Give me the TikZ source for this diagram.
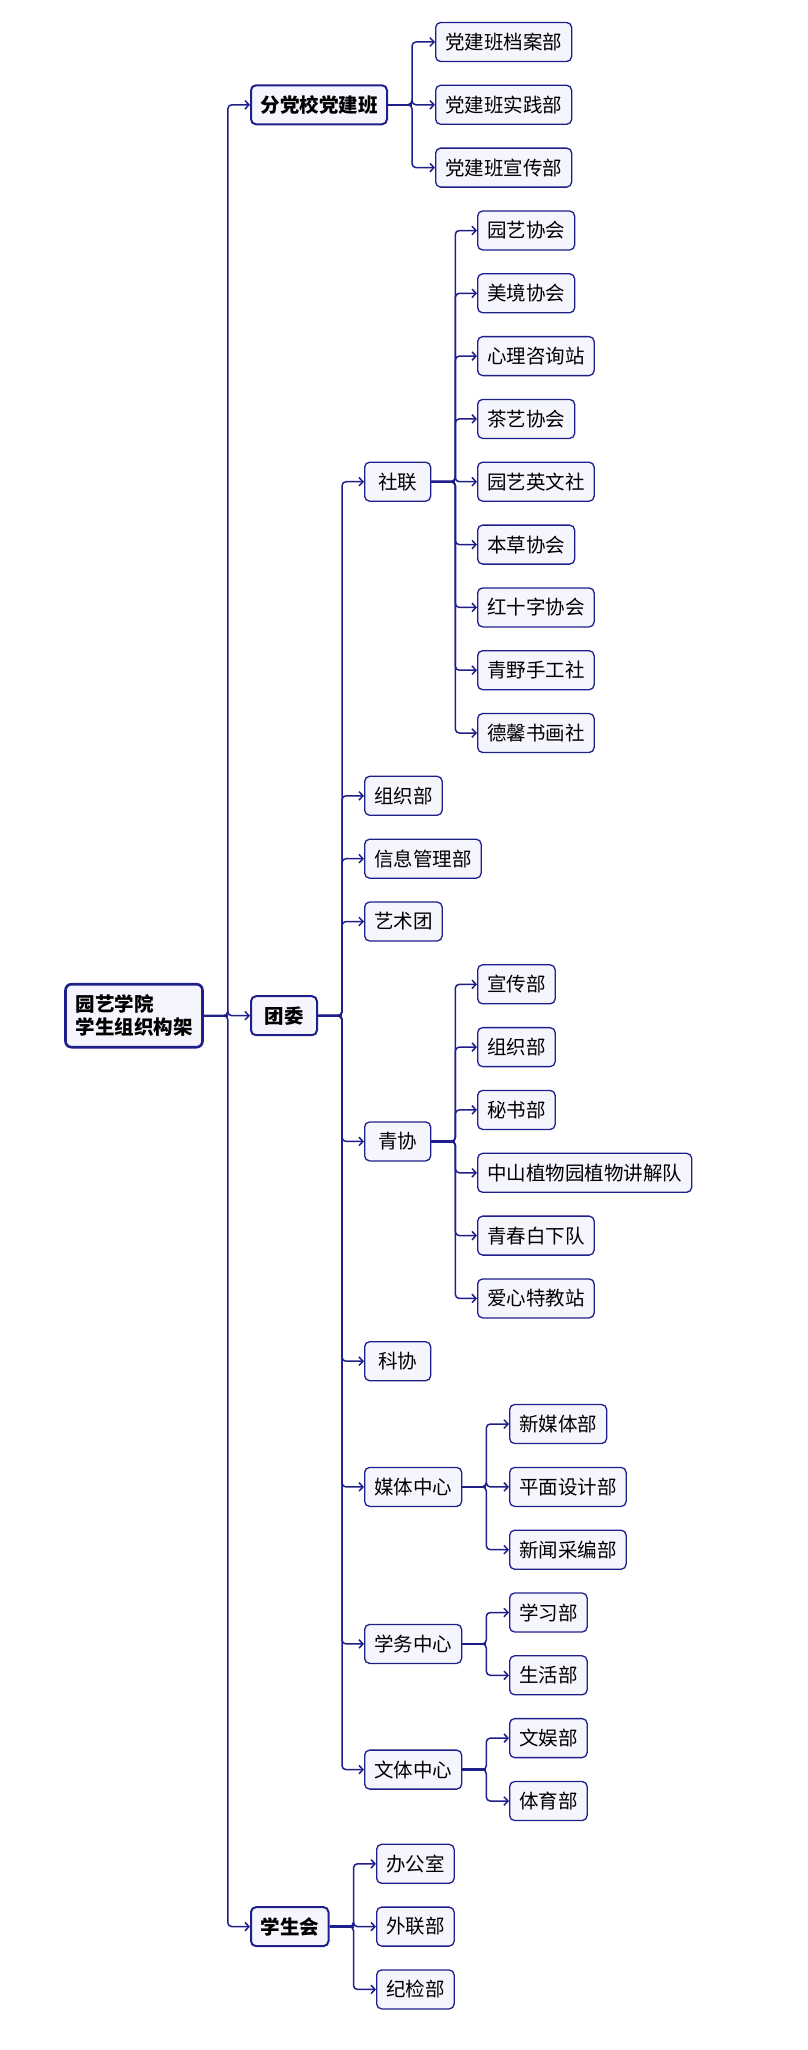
\documentclass[tikz,border=0pt]{standalone}
\usepackage{fontspec}
\setmainfont{Noto Sans CJK SC}
\usetikzlibrary{arrows.meta}
\definecolor{navy}{HTML}{1F1F8C}
\definecolor{boxfill}{HTML}{F5F5FD}

\begin{document}
\begin{tikzpicture}[x=1pt,y=-1pt,
    box/.style={draw=navy,fill=boxfill,rounded corners=5pt,line width=1.3pt,anchor=west,
      inner xsep=9.5pt,inner ysep=0pt,minimum height=39pt,minimum width=66pt,
      font=\fontsize{19.5}{22.5}\selectfont},
    lvlone/.style={box,line width=2pt,font=\fontsize{19.5}{22.5}\selectfont\bfseries},
    rootbox/.style={lvlone,line width=2.6pt,rounded corners=6pt,anchor=center,align=left,
      minimum height=63pt,inner xsep=10pt},
    link/.style={draw=navy,line width=1.5pt,rounded corners=4pt,-{Straight Barb[length=4pt,width=8.5pt]}},
    stub/.style={draw=navy,line width=2.3pt}]
   \useasboundingbox (0,0) rectangle (807,2050);
   \node at (134,1015.7) [rootbox] (root) {园艺学院\\学生组织构架};
   \node at (250,104.8) [lvlone] (dx) {分党校党建班};
   \node at (250,1015.7) [lvlone] (tw) {团委};
   \node at (250,1926.6) [lvlone] (xsh) {学生会};
   % 分党校党建班
   \node at (435,42.0) [box] (dx1) {党建班档案部};
   \node at (435,104.8) [box] (dx2) {党建班实践部};
   \node at (435,167.6) [box] (dx3) {党建班宣传部};
   % 团委
   \node at (364,481.7) [box] (sl) {社联};
   \node at (364,795.8) [box] (zzb) {组织部};
   \node at (364,858.7) [box] (xxgl) {信息管理部};
   \node at (364,921.5) [box] (yst) {艺术团};
   \node at (364,1141.4) [box] (qx) {青协};
   \node at (364,1361.2) [box] (kx) {科协};
   \node at (364,1486.9) [box] (mt) {媒体中心};
   \node at (364,1643.9) [box] (xw) {学务中心};
   \node at (364,1769.6) [box] (wt) {文体中心};
   % 社联
   \node at (477,230.5) [box] (sl1) {园艺协会};
   \node at (477,293.3) [box] (sl2) {美境协会};
   \node at (477,356.1) [box] (sl3) {心理咨询站};
   \node at (477,418.9) [box] (sl4) {茶艺协会};
   \node at (477,481.7) [box] (sl5) {园艺英文社};
   \node at (477,544.6) [box] (sl6) {本草协会};
   \node at (477,607.4) [box] (sl7) {红十字协会};
   \node at (477,670.2) [box] (sl8) {青野手工社};
   \node at (477,733.0) [box] (sl9) {德馨书画社};
   % 青协
   \node at (477,984.3) [box] (qx1) {宣传部};
   \node at (477,1047.1) [box] (qx2) {组织部};
   \node at (477,1109.9) [box] (qx3) {秘书部};
   \node at (477,1172.8) [box] (qx4) {中山植物园植物讲解队};
   \node at (477,1235.6) [box] (qx5) {青春白下队};
   \node at (477,1298.4) [box] (qx6) {爱心特教站};
   % 中心
   \node at (509,1424.0) [box] (mt1) {新媒体部};
   \node at (509,1486.9) [box] (mt2) {平面设计部};
   \node at (509,1549.7) [box] (mt3) {新闻采编部};
   \node at (509,1612.5) [box] (xw1) {学习部};
   \node at (509,1675.3) [box] (xw2) {生活部};
   \node at (509,1738.1) [box] (wt1) {文娱部};
   \node at (509,1801.0) [box] (wt2) {体育部};
   % 学生会
   \node at (376,1863.8) [box] (xs1) {办公室};
   \node at (376,1926.6) [box] (xs2) {外联部};
   \node at (376,1989.4) [box] (xs3) {纪检部};
   \foreach \p in {root,dx,tw,sl,qx,mt,xw,wt,xsh}
      \draw[stub] (\p.east) -- ++(24,0);
   \foreach \p/\c in {root/dx,root/tw,root/xsh,dx/dx1,dx/dx2,dx/dx3,
      tw/sl,tw/zzb,tw/xxgl,tw/yst,tw/qx,tw/kx,tw/mt,tw/xw,tw/wt,
      sl/sl1,sl/sl2,sl/sl3,sl/sl4,sl/sl5,sl/sl6,sl/sl7,sl/sl8,sl/sl9,
      qx/qx1,qx/qx2,qx/qx3,qx/qx4,qx/qx5,qx/qx6,
      mt/mt1,mt/mt2,mt/mt3,xw/xw1,xw/xw2,wt/wt1,wt/wt2,
      xsh/xs1,xsh/xs2,xsh/xs3}
      \draw[link] (\p.east) -- ++(24,0) |- (\c.west);
\end{tikzpicture}
\end{document}
